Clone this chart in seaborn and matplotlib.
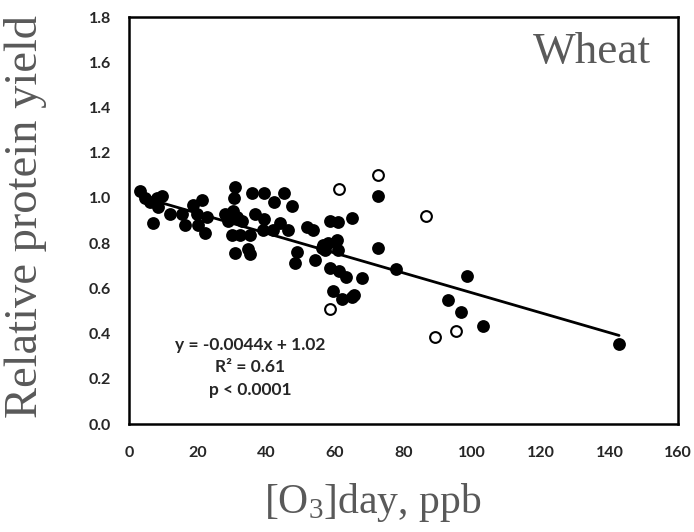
import numpy as np
import pandas as pd
import matplotlib
matplotlib.use("Agg")
import matplotlib.pyplot as plt
import seaborn as sns

# filled points (ambient studies)
o3_filled = [3.2, 4.7, 6.1, 8.2, 9.6, 7.6, 8.5, 7.0, 12.0, 15.4, 16.3, 18.7, 21.3, 19.8, 20.1,
             22.2, 22.7, 30.9, 30.6, 35.8, 39.3, 42.3, 45.2, 47.5, 28.0, 30.3, 31.5, 28.9, 32.9,
             36.7, 39.3, 30.0, 32.4, 35.3, 39.1, 42.0, 44.0, 46.3, 51.9, 53.6, 30.9, 34.7, 35.3,
             49.0, 48.4, 54.2, 56.3, 56.5, 58.0, 60.6, 60.9, 57.1, 58.6, 60.9, 65.0, 72.6, 72.6,
             77.8, 58.6, 61.2, 63.2, 67.9, 59.5, 62.1, 65.6, 65.0, 93.0, 96.8, 98.5, 103.2, 142.8]
yield_filled = [1.03, 1.00, 0.98, 1.00, 1.01, 0.98, 0.96, 0.89, 0.93, 0.93, 0.88, 0.97, 0.99, 0.93, 0.88,
                0.845, 0.915, 1.05, 1.00, 1.02, 1.02, 0.98, 1.02, 0.965, 0.93, 0.94, 0.915, 0.90, 0.90,
                0.93, 0.905, 0.835, 0.835, 0.835, 0.86, 0.86, 0.89, 0.86, 0.87, 0.86, 0.755, 0.775, 0.75,
                0.76, 0.71, 0.725, 0.78, 0.79, 0.80, 0.815, 0.77, 0.77, 0.90, 0.895, 0.91, 1.01, 0.78,
                0.685, 0.69, 0.675, 0.65, 0.645, 0.59, 0.555, 0.57, 0.56, 0.55, 0.495, 0.655, 0.435, 0.355]

# open points
o3_open = [61.2, 72.6, 86.6, 58.6, 89.2, 95.3]
yield_open = [1.04, 1.10, 0.92, 0.51, 0.385, 0.41]

# regression from the chart
slope = -0.0044
intercept = 1.02

xticks = [0, 20, 40, 60, 80, 100, 120, 140, 160]
yticks = [0.0, 0.2, 0.4, 0.6, 0.8, 1.0, 1.2, 1.4, 1.6, 1.8]

sns.set_style("white")
plt.rcParams["mathtext.default"] = "regular"

fig = plt.figure(figsize=(6.94, 5.32), dpi=100)
ax = fig.add_axes([0.186, 0.203, 0.791, 0.765])

df_f = pd.DataFrame({"o3": o3_filled, "y": yield_filled})
df_o = pd.DataFrame({"o3": o3_open, "y": yield_open})

# fitted line over the range of the data
all_x = o3_filled + o3_open
xl = np.array([min(all_x), max(all_x)])
ax.plot(xl, slope * xl + intercept, color="black", lw=2, zorder=1)

sns.scatterplot(data=df_f, x="o3", y="y", ax=ax, color="black", s=85,
                edgecolor="black", linewidth=0, zorder=3)
sns.scatterplot(data=df_o, x="o3", y="y", ax=ax, facecolor="white", s=60,
                edgecolor="black", linewidth=1.5, zorder=3)

ax.set_xlim(0, 160)
ax.set_ylim(0, 1.8)
ax.set_xticks(xticks)
ax.set_yticks(yticks)
ax.set_xticklabels([str(t) for t in xticks])
ax.set_yticklabels([f"{t:.1f}" for t in yticks])
for lab in ax.get_xticklabels() + ax.get_yticklabels():
    lab.set_fontfamily("Lato")
    lab.set_fontweight("bold")
    lab.set_fontsize(11.5)
ax.tick_params(direction="in", length=5, width=1.8, color="black")
ax.tick_params(axis="x", pad=16)
ax.tick_params(axis="y", pad=13)
for sp in ax.spines.values():
    sp.set_visible(True)
    sp.set_linewidth(1.8)
    sp.set_color("black")

ax.set_xlabel("[O$_3$]day, ppb", fontfamily="Liberation Serif", fontsize=30,
              color="#595959")
ax.xaxis.set_label_coords(0.444, -0.14)
ax.set_ylabel("Relative protein yield", fontfamily="Liberation Serif", fontsize=33.5,
              color="#595959")
ax.yaxis.set_label_coords(-0.15, 0.51)

ax.text(0.95, 0.915, "Wheat", transform=ax.transAxes, ha="right", va="center",
        fontfamily="Liberation Serif", fontsize=32.5, color="#595959")

eq = "y = -0.0044x + 1.02\nR² = 0.61\np < 0.0001"
ax.text(35.3, 0.252, eq, ha="center", va="center", fontfamily="Lato",
        fontweight="bold", fontsize=12.5, linespacing=1.5)

plt.savefig("out.png", dpi=100)
